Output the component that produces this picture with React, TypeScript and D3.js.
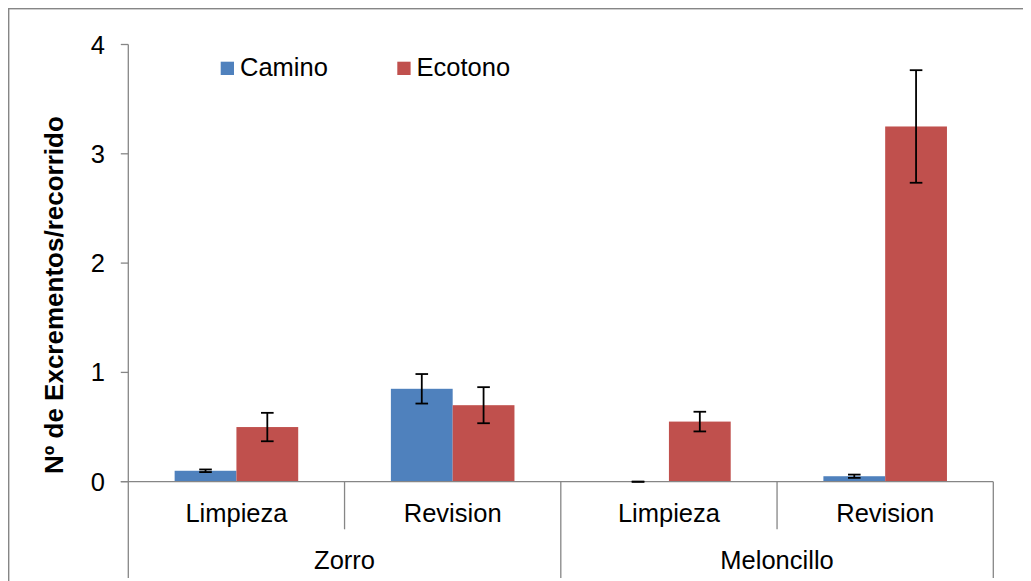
import React from "react";
import * as d3 from "d3";

// Grouped category axis: species (outer level) and survey phase (inner level)
const species = ["Zorro", "Meloncillo"];
const phases = ["Limpieza", "Revision"];
const seriesNames = ["Camino", "Ecotono"];
const seriesColors = ["#4F81BD", "#C0504D"];

// Mean droppings per survey and their error margins, one entry per species × phase
const caminoValues = [0.1, 0.85, 0.0, 0.05];
const caminoErrors = [0.012, 0.135, 0.0, 0.015];
const ecotonoValues = [0.5, 0.7, 0.55, 3.25];
const ecotonoErrors = [0.13, 0.165, 0.09, 0.515];

const yTicks = [0, 1, 2, 3, 4];
const yTitle = "Nº de Excrementos/recorrido";

const W = 1023;
const H = 573;
const FONT = "'Liberation Sans', Arial, Helvetica, sans-serif";
const AXIS = "#868686";

export default function App() {
  const categories = species.flatMap((s) => phases.map((p) => `${s}|${p}`));
  const series = [
    { name: seriesNames[0], color: seriesColors[0], values: caminoValues, errors: caminoErrors },
    { name: seriesNames[1], color: seriesColors[1], values: ecotonoValues, errors: ecotonoErrors },
  ];

  // page coordinates; the group below shifts them by the body margin
  const x = d3.scaleBand<string>().domain(categories).range([128.3, 993.3]);
  const inner = d3
    .scaleBand<string>()
    .domain(seriesNames)
    .range([0, x.bandwidth()])
    .paddingInner(0)
    .paddingOuter(0.75);
  const y = d3.scaleLinear().domain([0, 4]).range([481.7, 44.5]);

  const x0 = x.range()[0];
  const x1 = x.range()[1];
  const y0 = y(0);
  const axisBottom = 578;
  const phaseSepBottom = 529.3;

  const boundaries = categories.map((c, i) => ({
    pos: x(c) as number,
    long: i % phases.length === 0,
  }));
  boundaries.push({ pos: x1, long: true });

  const capHalf = 6.3;

  return (
    <svg width={W} height={H} style={{ display: "block" }} fontFamily={FONT}>
      <g transform="translate(-8,-8)">
        <rect x={0} y={0} width={1100} height={700} fill="#ffffff" />
        {/* chart frame */}
        <rect x={8.7} y={8.7} width={1100} height={1000} fill="none" stroke={AXIS} strokeWidth={1.4} />

        {/* bars */}
        {series.map((s) =>
          categories.map((c, i) => {
            const bx = (x(c) as number) + (inner(s.name) as number);
            const v = s.values[i];
            return (
              <rect
                key={`${s.name}-${c}`}
                x={bx}
                y={y(v)}
                width={inner.bandwidth()}
                height={y0 - y(v)}
                fill={s.color}
              />
            );
          })
        )}

        {/* axes */}
        <line x1={x0} x2={x0} y1={y(4)} y2={axisBottom} stroke={AXIS} strokeWidth={1.3} />
        {yTicks.map((t) => (
          <g key={t}>
            <line x1={x0 - 7.5} x2={x0} y1={y(t)} y2={y(t)} stroke={AXIS} strokeWidth={1.3} />
            <text x={105} y={y(t) + 9} textAnchor="end" fontSize={25.5} fill="#000">
              {t}
            </text>
          </g>
        ))}
        <line x1={x0 - 7.5} x2={x1} y1={y0} y2={y0} stroke={AXIS} strokeWidth={1.3} />
        {boundaries
          .filter((b) => b.pos !== x0)
          .map((b, i) => (
            <line
              key={i}
              x1={b.pos}
              x2={b.pos}
              y1={y0}
              y2={b.long ? axisBottom : phaseSepBottom}
              stroke={AXIS}
              strokeWidth={1.3}
            />
          ))}

        {/* error bars */}
        {series.map((s) =>
          categories.map((c, i) => {
            const cx = (x(c) as number) + (inner(s.name) as number) + inner.bandwidth() / 2;
            const v = s.values[i];
            const e = s.errors[i];
            const top = y(v + e);
            const bot = y(Math.max(0, v - e));
            return (
              <g key={`err-${s.name}-${c}`} stroke="#000" strokeWidth={1.8}>
                <line x1={cx} x2={cx} y1={top} y2={bot} />
                <line x1={cx - capHalf} x2={cx + capHalf} y1={top} y2={top} />
                <line x1={cx - capHalf} x2={cx + capHalf} y1={bot} y2={bot} />
              </g>
            );
          })
        )}

        {/* category labels */}
        {categories.map((c) => (
          <text
            key={`lab-${c}`}
            x={(x(c) as number) + x.bandwidth() / 2}
            y={521.7}
            textAnchor="middle"
            fontSize={25.5}
            fill="#000"
          >
            {c.split("|")[1]}
          </text>
        ))}
        {species.map((s) => {
          const first = x(`${s}|${phases[0]}`) as number;
          const last = (x(`${s}|${phases[phases.length - 1]}`) as number) + x.bandwidth();
          return (
            <text key={`sp-${s}`} x={(first + last) / 2} y={569.3} textAnchor="middle" fontSize={25.5} fill="#000">
              {s}
            </text>
          );
        })}

        {/* y axis title */}
        <text
          transform={`translate(63.3,${(y(4) + y0) / 2 + 32}) rotate(-90)`}
          textAnchor="middle"
          fontSize={26}
          fontWeight="bold"
          fill="#000"
        >
          {yTitle}
        </text>

        {/* legend */}
        {series.map((s, i) => (
          <g key={`leg-${s.name}`} transform={`translate(${220.7 + i * 176.6},0)`}>
            <rect x={0} y={61.7} width={13.3} height={13.3} fill={s.color} />
            <text x={19.3} y={75.7} fontSize={25.5} fill="#000">
              {s.name}
            </text>
          </g>
        ))}
      </g>
    </svg>
  );
}
